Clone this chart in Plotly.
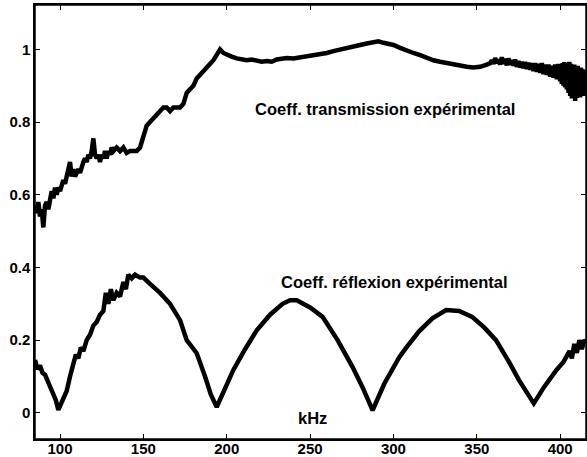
import plotly.graph_objects as go

# Transmission coefficient (kHz, value)
trans_khz = [85, 86, 87, 88, 89, 90, 91, 92, 93, 94, 95, 96, 97, 98, 99, 100, 101, 102, 103, 104,
             105, 106, 107, 108, 109, 110, 111, 112, 113, 114, 115, 116, 117, 118, 119, 120, 121, 122,
             123, 124, 125, 126, 127, 128, 129, 130, 131, 132, 134, 136, 138, 140, 142, 144, 146, 148,
             150, 152, 154, 156, 158, 160, 162, 164, 166, 168, 170, 172, 174, 176, 178, 180, 182, 184,
             186, 188, 190, 192, 194, 196, 198, 200, 203, 206, 209, 212, 215, 218, 221, 224, 227, 230,
             233, 236, 240, 244, 248, 252, 256, 260, 264, 268, 272, 276, 280, 284, 288, 291, 294, 297,
             300, 304, 308, 312, 316, 320, 324, 328, 332, 336, 340, 344, 348, 352, 356,
             358, 359, 360, 361, 362, 363, 364, 365, 366, 367, 368, 369, 370, 371, 372, 373, 374, 375,
             376, 377, 378, 379, 380, 381, 382, 383, 384, 385, 386, 387, 388, 389, 390, 391, 392, 393,
             394, 395, 396, 397, 398, 399, 400, 400.5, 401, 401.5, 402, 402.5, 403, 403.5, 404, 404.5,
             405, 405.5, 406, 406.5, 407, 407.5, 408, 408.5, 409, 409.5, 410, 410.5, 411, 411.5, 412,
             412.5, 413, 413.5, 414, 414.5, 415, 415.5]
trans_val = [0.57, 0.55, 0.58, 0.54, 0.56, 0.51, 0.57, 0.58, 0.56, 0.59, 0.61, 0.59, 0.62, 0.60, 0.62, 0.61, 0.63, 0.64, 0.63, 0.65,
             0.66, 0.69, 0.65, 0.67, 0.65, 0.66, 0.67, 0.66, 0.68, 0.69, 0.70, 0.69, 0.71, 0.70, 0.72, 0.755, 0.71, 0.70,
             0.71, 0.69, 0.71, 0.70, 0.72, 0.70, 0.72, 0.71, 0.73, 0.72, 0.73, 0.72, 0.73, 0.715, 0.72, 0.72, 0.72, 0.73,
             0.76, 0.79, 0.80, 0.81, 0.82, 0.83, 0.84, 0.84, 0.83, 0.84, 0.84, 0.84, 0.85, 0.88, 0.89, 0.90, 0.92, 0.93,
             0.94, 0.95, 0.96, 0.97, 0.985, 1.0, 0.99, 0.985, 0.98, 0.975, 0.972, 0.97, 0.972, 0.968, 0.966, 0.968, 0.966, 0.972,
             0.975, 0.976, 0.975, 0.978, 0.98, 0.982, 0.986, 0.99, 0.995, 1.0, 1.005, 1.01, 1.012, 1.016, 1.02, 1.022, 1.018, 1.016,
             1.012, 1.004, 0.996, 0.99, 0.984, 0.976, 0.97, 0.966, 0.962, 0.958, 0.955, 0.952, 0.950, 0.952, 0.958,
             0.962, 0.970, 0.960, 0.976, 0.962, 0.972, 0.958, 0.978, 0.960, 0.974, 0.956, 0.975, 0.958, 0.970, 0.955, 0.972, 0.952, 0.968,
             0.950, 0.966, 0.948, 0.965, 0.946, 0.963, 0.944, 0.962, 0.940, 0.962, 0.938, 0.960, 0.935, 0.962, 0.932, 0.958, 0.930, 0.958,
             0.925, 0.955, 0.922, 0.958, 0.918, 0.960, 0.912, 0.955, 0.905, 0.962, 0.900, 0.965, 0.895, 0.958, 0.890, 0.962, 0.880, 0.966,
             0.872, 0.960, 0.865, 0.955, 0.870, 0.958, 0.858, 0.952, 0.866, 0.955, 0.875, 0.948, 0.868, 0.950, 0.880, 0.945, 0.872,
             0.942, 0.885, 0.940, 0.880, 0.935, 0.890, 0.930]

# Reflection coefficient (kHz, value)
refl_khz = [85, 86.5, 88, 89.5, 91, 93, 94.5, 96, 97.5, 99, 100.5, 102, 104, 106, 108, 109.5, 111, 112.5, 114, 116,
            118, 120, 122, 124, 126, 127.5, 129, 130.5, 132, 134, 136, 138, 139.5, 141, 143, 145, 148, 150,
            154, 160, 166, 172, 176, 182, 187, 190.5, 194, 199, 204, 211, 218, 226, 233.5, 238, 242, 250,
            257.5, 266.5, 275.5, 281.5, 287.5, 294.5, 303.5, 307.8, 315.5, 323.4, 331.6, 339.4, 347.2, 354.4, 361.5, 369.3,
            375.3, 384.2, 390.2, 397.8, 402, 405.6, 407, 408.5, 410, 411.5, 413, 414.5, 415.5]
refl_val = [0.145, 0.12, 0.13, 0.11, 0.105, 0.085, 0.07, 0.05, 0.035, 0.008, 0.025, 0.04, 0.06, 0.10, 0.13, 0.16, 0.15, 0.18, 0.17, 0.20,
            0.215, 0.24, 0.25, 0.27, 0.28, 0.33, 0.30, 0.34, 0.31, 0.33, 0.32, 0.36, 0.34, 0.38, 0.37, 0.38, 0.372, 0.372,
            0.355, 0.33, 0.30, 0.255, 0.20, 0.164, 0.10, 0.05, 0.016, 0.07, 0.118, 0.175, 0.227, 0.27, 0.30, 0.31, 0.31, 0.29,
            0.264, 0.20, 0.126, 0.07, 0.007, 0.08, 0.153, 0.18, 0.225, 0.26, 0.283, 0.28, 0.264, 0.235, 0.20, 0.14,
            0.09, 0.026, 0.07, 0.118, 0.14, 0.17, 0.15, 0.19, 0.165, 0.20, 0.175, 0.20, 0.195]

x_ticks = [100, 150, 200, 250, 300, 350, 400]
y_ticks = [0, 0.2, 0.4, 0.6, 0.8, 1]
y_tick_text = ["0", "0.2", "0.4", "0.6", "0.8", "1"]

FAM = "Arial, Liberation Sans, sans-serif"

fig = go.Figure()
fig.add_trace(go.Scatter(x=trans_khz, y=trans_val, mode="lines",
                         line=dict(color="black", width=4.5), showlegend=False))
fig.add_trace(go.Scatter(x=refl_khz, y=refl_val, mode="lines",
                         line=dict(color="black", width=4.5), showlegend=False))

ann_font = dict(family=FAM, size=16.5, color="black", weight="bold")
fig.add_annotation(x=295, y=0.836, text="Coeff. transmission expérimental", showarrow=False, font=ann_font)
fig.add_annotation(x=300.5, y=0.36, text="Coeff. réflexion expérimental", showarrow=False, font=ann_font)
fig.add_annotation(x=251.6, y=-0.013, text="kHz", showarrow=False, font=ann_font)

# plot frame
fig.add_shape(type="rect", xref="paper", yref="paper", x0=0, x1=1, y0=0, y1=1,
              line=dict(color="black", width=1.5), layer="above")

tick_font = dict(family=FAM, size=15, color="black", weight="bold")

fig.update_layout(
    width=587, height=457,
    margin=dict(l=35, r=1, t=5, b=18, autoexpand=False),
    paper_bgcolor="white", plot_bgcolor="white",
)
fig.update_xaxes(range=[85, 415.5], tickvals=x_ticks, ticks="inside", ticklen=5, tickwidth=1,
                 tickcolor="black", showline=True, linecolor="black", linewidth=1.5, mirror="ticks",
                 showgrid=False, zeroline=False, tickfont=tick_font, automargin=False,
                 ticklabelstandoff=-5)
fig.update_yaxes(range=[-0.072, 1.122], tickvals=y_ticks, ticktext=y_tick_text, ticks="inside", ticklen=5,
                 tickwidth=1, tickcolor="black", showline=True, linecolor="black", linewidth=1.5,
                 mirror="ticks", showgrid=False, zeroline=False, tickfont=tick_font, automargin=False)

fig.write_html("out.html", config={"displayModeBar": False},
               post_script="document.body.style.margin='0';document.body.style.padding='0';"
                           "document.body.style.overflow='hidden';")
